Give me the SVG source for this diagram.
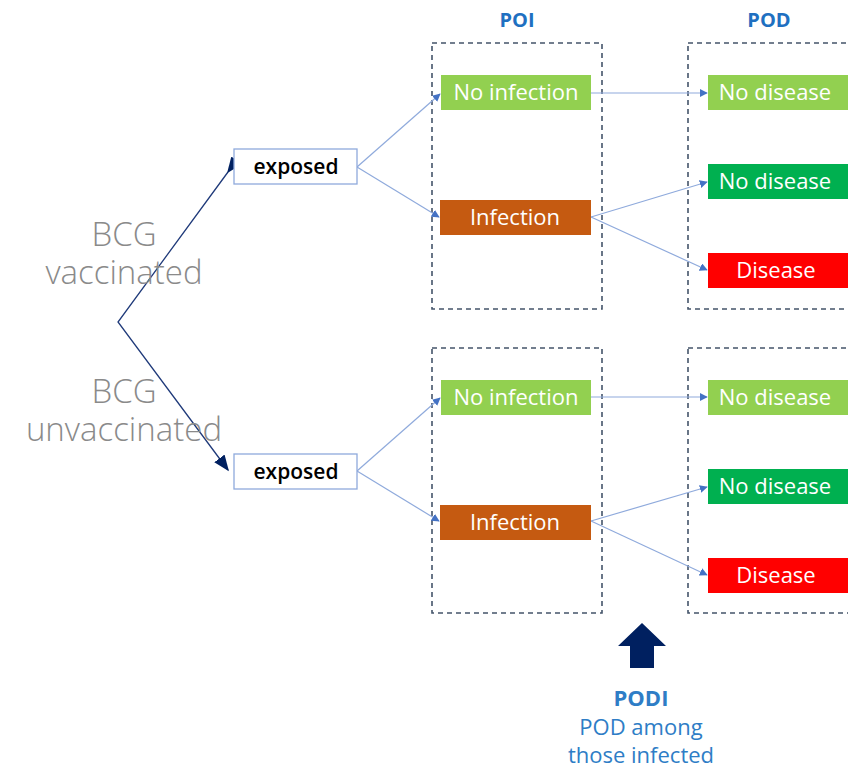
<svg xmlns="http://www.w3.org/2000/svg" width="848" height="771" viewBox="0 0 848 771">
<style>
.frame{fill:none;stroke:#44546a;stroke-width:1.6;stroke-dasharray:5,4}
.bx{stroke:none}
.t{font-family:"Open Sans","Liberation Sans",sans-serif;font-size:22px;fill:#fff;text-anchor:middle}
.tk{font-family:"Open Sans","Liberation Sans",sans-serif;font-size:21px;font-weight:600;fill:#000;text-anchor:middle}
.hd{font-family:"Open Sans","Liberation Sans",sans-serif;font-size:20px;font-weight:bold;fill:#1f70c1;text-anchor:middle}
.lbl{font-family:"Open Sans","Liberation Sans",sans-serif;font-weight:300;font-size:33px;fill:#8a8a8a;text-anchor:middle}
.cn{fill:none;stroke:#8faadc;stroke-width:1.2}
.br{fill:none;stroke:#1f3a7a;stroke-width:1.3}
.pd{font-family:"Open Sans","Liberation Sans",sans-serif;font-size:22px;fill:#2e7dc6;text-anchor:middle}
</style>
<defs>
<marker id="a" viewBox="0 0 10 10" refX="9" refY="5" markerWidth="8" markerHeight="8" markerUnits="userSpaceOnUse" orient="auto"><path d="M0,0L10,5L0,10z" fill="#4472c4"/></marker>
<marker id="b" viewBox="0 0 10 10" refX="9" refY="5" markerWidth="16" markerHeight="16" markerUnits="userSpaceOnUse" orient="auto"><path d="M0,1L10,5L0,9z" fill="#002060"/></marker>
</defs>
<text class="hd" x="517" y="27">POI</text>
<text class="hd" x="769" y="27">POD</text>
<rect class="frame" x="432" y="43" width="170" height="266"/>
<rect class="frame" x="688" y="43" width="170" height="266"/>
<rect class="frame" x="432" y="348" width="170" height="265"/>
<rect class="frame" x="688" y="348" width="170" height="265"/>
<g id="connectors">
<polyline class="br" points="228,172 118,322 228,470" marker-start="url(#b)" marker-end="url(#b)"/>
<line class="cn" x1="357" y1="167" x2="440" y2="94" marker-end="url(#a)"/>
<line class="cn" x1="357" y1="167" x2="439" y2="217" marker-end="url(#a)"/>
<line class="cn" x1="591" y1="93" x2="707" y2="93" marker-end="url(#a)"/>
<line class="cn" x1="591" y1="217" x2="707" y2="182" marker-end="url(#a)"/>
<line class="cn" x1="591" y1="217" x2="707" y2="270" marker-end="url(#a)"/>
<line class="cn" x1="357" y1="471" x2="440" y2="398" marker-end="url(#a)"/>
<line class="cn" x1="357" y1="471" x2="439" y2="521" marker-end="url(#a)"/>
<line class="cn" x1="591" y1="397" x2="707" y2="397" marker-end="url(#a)"/>
<line class="cn" x1="591" y1="521" x2="707" y2="487" marker-end="url(#a)"/>
<line class="cn" x1="591" y1="521" x2="707" y2="575" marker-end="url(#a)"/>
</g>
<g id="exposed1"><rect x="234" y="149" width="123" height="35" fill="#fff" stroke="#8faadc" stroke-width="1.3"/><text class="tk" x="296" y="174">exposed</text></g>
<g id="exposed2"><rect x="234" y="454" width="123" height="35" fill="#fff" stroke="#8faadc" stroke-width="1.3"/><text class="tk" x="296" y="479">exposed</text></g>
<g id="noinf1"><rect class="bx" x="441" y="75" width="150" height="35" fill="#92d050"/><text class="t" x="516" y="100">No infection</text></g>
<g id="inf1"><rect class="bx" x="440" y="200" width="151" height="35" fill="#c55a11"/><text class="t" x="515" y="225">Infection</text></g>
<g id="nod1a"><rect class="bx" x="708" y="75" width="140" height="35" fill="#92d050"/><text class="t" x="775" y="100">No disease</text></g>
<g id="nod1b"><rect class="bx" x="708" y="164" width="140" height="35" fill="#00b050"/><text class="t" x="775" y="189">No disease</text></g>
<g id="dis1"><rect class="bx" x="708" y="253" width="140" height="35" fill="#ff0000"/><text class="t" x="776" y="278">Disease</text></g>
<g id="noinf2"><rect class="bx" x="441" y="380" width="150" height="35" fill="#92d050"/><text class="t" x="516" y="405">No infection</text></g>
<g id="inf2"><rect class="bx" x="440" y="505" width="151" height="35" fill="#c55a11"/><text class="t" x="515" y="530">Infection</text></g>
<g id="nod2a"><rect class="bx" x="708" y="380" width="140" height="35" fill="#92d050"/><text class="t" x="775" y="405">No disease</text></g>
<g id="nod2b"><rect class="bx" x="708" y="469" width="140" height="35" fill="#00b050"/><text class="t" x="775" y="494">No disease</text></g>
<g id="dis2"><rect class="bx" x="708" y="558" width="140" height="35" fill="#ff0000"/><text class="t" x="776" y="583">Disease</text></g>
<g id="lbl1"><text class="lbl" x="124" y="246">BCG</text><text class="lbl" x="124" y="284">vaccinated</text></g>
<g id="lbl2"><text class="lbl" x="124" y="403">BCG</text><text class="lbl" x="124" y="441">unvaccinated</text></g>
<g id="podi">
<path d="M642,623L666,646H654V668H630V646H618z" fill="#002060"/>
<text class="pd" x="641" y="706" font-weight="bold">PODI</text>
<text class="pd" x="641" y="735">POD among</text>
<text class="pd" x="641" y="763">those infected</text>
</g>
</svg>
